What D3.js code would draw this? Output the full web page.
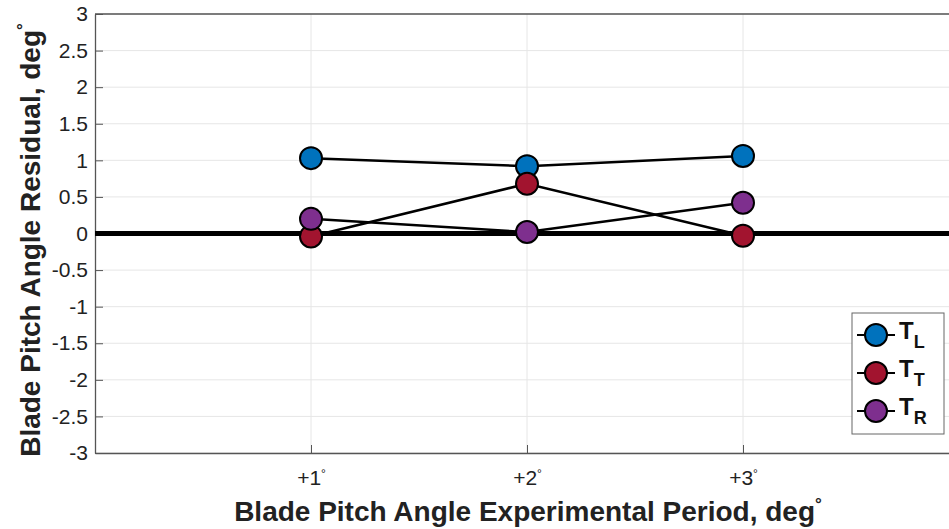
<!DOCTYPE html>
<html>
<head>
<meta charset="utf-8">
<script src="https://cdn.jsdelivr.net/npm/d3@7"></script>
<style>
  body { margin: 0; background: #fff; }
  text { font-family: "Liberation Sans", Arial, sans-serif; }
</style>
</head>
<body>
<div id="chart"></div>
<script>
// data
const periods = [1, 2, 3]
const periodLabels = ["+1", "+2", "+3"]
const yTicks = [3, 2.5, 2, 1.5, 1, 0.5, 0, -0.5, -1, -1.5, -2, -2.5, -3]
const seriesNames = ["L", "T", "R"]
const seriesColors = ["#0072BD", "#A2142F", "#7E2F8E"]
const TL = [1.03, 0.92, 1.06]
const TT = [-0.04, 0.68, -0.03]
const TR = [0.2, 0.02, 0.42]

const W = 949, H = 529
const margin = {top: 14, right: -10, bottom: 76, left: 95}
const width = W - margin.left - margin.right
const height = H - margin.top - margin.bottom

const svg = d3.select("#chart").append("svg")
  .attr("width", W).attr("height", H)

const g = svg.append("g")
  .attr("transform", `translate(${margin.left},${margin.top})`)

const x = d3.scaleLinear().domain([0, 4]).range([0, width])
const y = d3.scaleLinear().domain([-3, 3]).range([height, 0])

// grid
g.append("g").selectAll("line").data(yTicks).enter().append("line")
  .attr("x1", 0).attr("x2", width)
  .attr("y1", d => y(d)).attr("y2", d => y(d))
  .style("stroke", "#e6e6e6").style("stroke-width", 1)
g.append("g").selectAll("line").data(periods).enter().append("line")
  .attr("y1", 0).attr("y2", height)
  .attr("x1", d => x(d)).attr("x2", d => x(d))
  .style("stroke", "#e6e6e6").style("stroke-width", 1)

// axes (ticks pointing inward like matlab)
const yAxis = g.append("g")
  .call(d3.axisLeft(y).tickValues(yTicks).tickSizeInner(-8).tickSizeOuter(0).tickPadding(7)
    .tickFormat(d => String(d)))
const xAxis = g.append("g").attr("transform", `translate(0,${height})`)
  .call(d3.axisBottom(x).tickValues(periods).tickSizeInner(-8).tickSizeOuter(0).tickPadding(17)
    .tickFormat((d, i) => periodLabels[i]))
g.append("line").attr("x1", 0).attr("x2", width).attr("y1", 0).attr("y2", 0)
  .style("stroke", "#555").style("stroke-width", 1.3)

;[yAxis, xAxis].forEach(a => {
  a.select(".domain").style("stroke", "#555").style("stroke-width", 1.3)
  a.selectAll(".tick line").style("stroke", "#555")
  a.selectAll(".tick text").style("font-size", "21px").style("fill", "#222")
})
// degree marks on x tick labels
xAxis.selectAll(".tick text").append("tspan")
  .attr("dy", "-0.6em").style("font-size", "12px").text("°")

// zero line
g.append("line")
  .attr("x1", 0).attr("x2", width)
  .attr("y1", y(0)).attr("y2", y(0))
  .style("stroke", "#000").style("stroke-width", 5)

const series = [TL, TT, TR]
const line = d3.line().x((d, i) => x(periods[i])).y(d => y(d))

series.forEach((s, k) => {
  g.append("path").datum(s)
    .attr("d", line)
    .style("fill", "none").style("stroke", "#000").style("stroke-width", 2.5)
})
series.forEach((s, k) => {
  g.append("g").selectAll("circle").data(s).enter().append("circle")
    .attr("cx", (d, i) => x(periods[i]))
    .attr("cy", d => y(d))
    .attr("r", 11)
    .style("fill", seriesColors[k]).style("stroke", "#000").style("stroke-width", 2)
})

// axis labels
svg.append("text")
  .attr("x", 528).attr("y", 521)
  .attr("text-anchor", "middle")
  .style("font-size", "28px").style("font-weight", "bold").style("fill", "#222")
  .text("Blade Pitch Angle Experimental Period, deg")
  .append("tspan").attr("dy", "-0.65em").style("font-size", "17px").text("°")

svg.append("text")
  .attr("transform", "translate(40,240) rotate(-90)")
  .attr("text-anchor", "middle")
  .style("font-size", "28px").style("font-weight", "bold").style("fill", "#222")
  .text("Blade Pitch Angle Residual, deg")
  .append("tspan").attr("dy", "-0.65em").style("font-size", "17px").text("°")

// legend
const lg = svg.append("g").attr("transform", "translate(852,313)")
lg.append("rect").attr("width", 92).attr("height", 121)
  .style("fill", "#fff").style("stroke", "#666").style("stroke-width", 1)
seriesNames.forEach((n, k) => {
  const row = lg.append("g").attr("transform", `translate(0,${22 + k * 38})`)
  row.append("line").attr("x1", 5).attr("x2", 43).attr("y1", 0).attr("y2", 0)
    .style("stroke", "#000").style("stroke-width", 2)
  row.append("circle").attr("cx", 24).attr("cy", 0).attr("r", 11)
    .style("fill", seriesColors[k]).style("stroke", "#000").style("stroke-width", 2)
  const t = row.append("text").attr("x", 47).attr("y", 4)
    .style("font-size", "24px").style("font-weight", "bold").style("fill", "#111")
    .text("T")
  t.append("tspan").attr("dy", "0.5em").style("font-size", "18px").text(n)
})
</script>
</body>
</html>
